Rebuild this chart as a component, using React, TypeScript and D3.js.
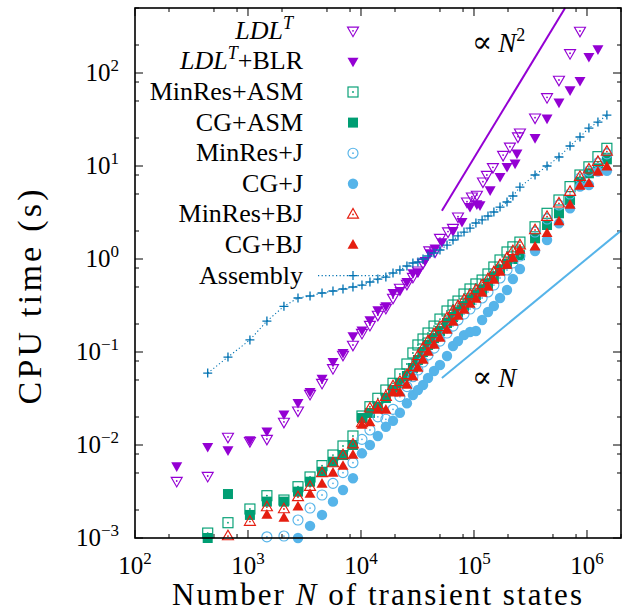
import React from "react";
import * as d3 from "d3";

// ---------- data ----------
const nGrid = [440, 665, 1040, 1470, 2080, 2770, 3540, 4520, 5650, 6930, 8490, 10200, 12000, 14100, 16600, 19200, 22100, 25500, 28800, 31900, 35400, 39200, 44300, 50000, 57700, 65200, 72200, 81600, 92200, 104000, 118000, 133000, 150000, 170000, 196000, 221000, 255000, 347000, 443000, 565000, 708000, 867000, 1040000, 1250000, 1500000];

const tAssembly = [0.0594, 0.0883, 0.135, 0.215, 0.31, 0.381, 0.4, 0.431, 0.453, 0.476, 0.5, 0.525, 0.566, 0.609, 0.64, 0.707, 0.762, 0.841, 0.906, 0.929, 1.0, 1.077, 1.16, 1.25, 1.41, 1.6, 1.77, 1.95, 2.15, 2.44, 2.63, 2.9, 3.2, 3.62, 4.1, 4.76, 5.94, 8.0, 10, 12.5, 16.4, 20.5, 25.6, 29.7, 35.3];

const tMinResASM = [0.00113, 0.00146, 0.00205, 0.00285, 0.00256, 0.00356, 0.00453, 0.006, 0.0078, 0.00976, 0.0125, 0.0205, 0.0258, 0.0318, 0.039, 0.0461, 0.058, 0.0743, 0.0976, 0.119, 0.138, 0.16, 0.19, 0.226, 0.276, 0.32, 0.353, 0.42, 0.476, 0.539, 0.594, 0.69, 0.82, 0.976, 1.19, 1.35, 1.52, 2.22, 3.1, 4.31, 6.0, 8.0, 9.8, 12.6, 15.5];

const tCGASM = [0.001, 0.00297, 0.00177, 0.00246, 0.00246, 0.00315, 0.00403, 0.00516, 0.00661, 0.0078, 0.01, 0.0195, 0.0221, 0.0258, 0.032, 0.039, 0.0464, 0.0552, 0.0673, 0.082, 0.1, 0.119, 0.141, 0.168, 0.205, 0.238, 0.269, 0.312, 0.362, 0.41, 0.464, 0.539, 0.64, 0.762, 0.884, 1.0, 1.1, 1.67, 2.32, 3.1, 4.31, 6.78, 8.35, 9.44, 11.8];

const tMinResJ = [null, null, null, 0.00103, 0.00105, 0.00156, 0.0021, 0.0029, 0.00387, 0.00504, 0.00645, 0.0115, 0.0145, 0.0201, 0.0189, 0.0242, 0.0331, 0.0424, 0.0542, 0.064, 0.078, 0.0929, 0.11, 0.131, 0.16, 0.19, 0.221, 0.256, 0.29, 0.328, 0.381, 0.442, 0.525, 0.625, 0.762, 0.906, 1.077, 1.95, 2.69, 3.81, 5.0, 7.43, 8.84, 10.8, 13.5];

const tCGJ = [null, null, null, null, null, 0.001, 0.00135, 0.00177, 0.00246, 0.00328, 0.00439, 0.00814, 0.01, 0.0125, 0.0157, 0.0182, 0.0222, 0.0281, 0.0345, 0.039, 0.0442, 0.0525, 0.0625, 0.0725, 0.0906, 0.116, 0.131, 0.152, 0.164, 0.168, 0.221, 0.269, 0.312, 0.381, 0.464, 0.61, 0.78, 1.22, 1.6, 2.42, 3.51, 6.0, 6.25, 8.69, 8.9];

const tMinResBJ = [null, 0.00105, 0.0015, 0.00215, 0.00205, 0.00276, 0.00356, 0.005, 0.0064, 0.0078, 0.0102, 0.0172, 0.0248, 0.0269, 0.0331, 0.0431, 0.048, 0.0566, 0.0695, 0.0906, 0.11, 0.131, 0.156, 0.186, 0.232, 0.276, 0.312, 0.362, 0.41, 0.464, 0.525, 0.61, 0.725, 0.862, 1.025, 1.22, 1.41, 2.05, 2.85, 3.97, 5.29, 7.67, 9.22, 11.1, 14.3];

const tCGBJ = [null, null, null, 0.00177, 0.00164, 0.00217, 0.00297, 0.00381, 0.005, 0.00594, 0.0078, 0.0164, 0.0174, 0.0238, 0.0238, 0.0365, 0.0365, 0.0442, 0.0542, 0.0673, 0.082, 0.1, 0.119, 0.141, 0.172, 0.21, 0.244, 0.283, 0.328, 0.372, 0.431, 0.5, 0.594, 0.725, 0.862, 1.025, 1.25, 1.35, 1.89, 2.52, 3.81, 6.1, 6.52, 8.62, 9.83];

const ldlN = [234, 440, 665, 1040, 1470, 2080, 2770, 3540, 4520, 5650, 6930, 8490, 10200, 12000, 14100, 16600, 19200, 22100, 25500, 28800, 31900, 35400, 40200, 45200, 50000, 58900, 65200, 72200, 86700, 95900, 106000, 120000, 130000, 147000, 181000, 208000, 245000, 255000, 347000, 443000, 565000, 708000, 867000];
const ldlT = [0.0041, 0.00464, 0.0122, 0.011, 0.0116, 0.0177, 0.0234, 0.0353, 0.0464, 0.0668, 0.0929, 0.119, 0.16, 0.195, 0.25, 0.297, 0.381, 0.488, 0.539, 0.64, 0.748, 0.906, 1.23, 1.2, 1.68, 1.97, 2.15, 2.85, 4.13, 4.68, 4.88, 6.78, 8.0, 9.68, 13.1, 16.1, 20.7, 22.8, 33.1, 54.8, 84.1, 163, 283];

const blrN = [234, 440, 665, 1040, 1470, 2080, 2770, 3540, 4520, 5650, 6930, 8490, 10200, 12000, 14100, 16600, 19200, 22100, 25500, 28800, 31900, 36800, 40800, 45200, 52100, 65200, 78300, 92200, 106000, 113000, 139000, 170000, 196000, 231000, 240000, 347000, 443000, 565000, 708000, 867000, 1040000, 1250000];
const blrT = [0.00594, 0.0096, 0.00884, 0.0113, 0.0141, 0.0215, 0.0285, 0.0374, 0.0521, 0.0787, 0.0983, 0.149, 0.172, 0.221, 0.283, 0.312, 0.434, 0.456, 0.57, 0.707, 0.725, 0.959, 1.16, 1.31, 1.53, 2.01, 2.52, 3.65, 3.9, 3.81, 5.52, 7.67, 9.83, 10.7, 13.7, 20.1, 32.6, 48.4, 65.6, 82.7, 150, 181];

const refQuadratic = [[5.2e4, 3.3], [6.4e5, 500]];
const refLinear = [[5.2e4, 0.0525], [2.0e6, 2.02]];

const xTickExps = [2, 3, 4, 5, 6];
const yTickExps = [-3, -2, -1, 0, 1, 2];
const minorMultipliers = [2, 5, 8];

const legendNames = ["LDL^T", "LDL^T+BLR", "MinRes+ASM", "CG+ASM", "MinRes+J", "CG+J", "MinRes+BJ", "CG+BJ", "Assembly"];

// ---------- style ----------
const FONT = "'Liberation Serif', 'DejaVu Serif', serif";
const PURPLE = "#9400D3";
const GREEN = "#009E73";
const LBLUE = "#56B4E9";
const RED = "#E51E10";
const BLUE = "#0072B2";

const L = 135, R = 621, T = 8, B = 538;
const x = d3.scaleLog().domain([1e2, 2e6]).range([L, R]);
const y = d3.scaleLog().domain([1e-3, 500]).range([B, T]);

type Kind = "tdo" | "tdf" | "sqo" | "sqf" | "cio" | "cif" | "tuo" | "tuf" | "plus";

function Marker({ kind, cx, cy, color }: { kind: Kind; cx: number; cy: number; color: string }) {
  const s = 5.5;
  const sw = 1.15;
  const dot = <circle cx={cx} cy={cy} r={0.9} fill={color} />;
  switch (kind) {
    case "tdo":
    case "tdf": {
      const d = `M${cx - s},${cy - 3.7}L${cx + s},${cy - 3.7}L${cx},${cy + 5.9}Z`;
      return kind === "tdf" ? <path d={d} fill={color} /> : <g><path d={d} fill="none" stroke={color} strokeWidth={sw} />{dot}</g>;
    }
    case "tuo":
    case "tuf": {
      const d = `M${cx - s},${cy + 3.7}L${cx + s},${cy + 3.7}L${cx},${cy - 5.9}Z`;
      return kind === "tuf" ? <path d={d} fill={color} /> : <g><path d={d} fill="none" stroke={color} strokeWidth={sw} />{dot}</g>;
    }
    case "sqo":
      return <g><rect x={cx - 5} y={cy - 5} width={10} height={10} fill="none" stroke={color} strokeWidth={sw} />{dot}</g>;
    case "sqf":
      return <rect x={cx - 5} y={cy - 5} width={10} height={10} fill={color} />;
    case "cio":
      return <g><circle cx={cx} cy={cy} r={5} fill="none" stroke={color} strokeWidth={sw} />{dot}</g>;
    case "cif":
      return <circle cx={cx} cy={cy} r={5.2} fill={color} />;
    case "plus":
      return <path d={`M${cx - 4.5},${cy}H${cx + 4.5}M${cx},${cy - 4.5}V${cy + 4.5}`} stroke={color} strokeWidth={1.3} />;
  }
  return null;
}

type Series = { name: string; kind: Kind; color: string; pts: [number, number][] };

const gridPairs = (ts: (number | null)[]) =>
  nGrid.map((n, i) => [n, ts[i]] as [number, number | null]).filter((p) => p[1] !== null) as [number, number][];

const series: Series[] = [
  { name: legendNames[0], kind: "tdo", color: PURPLE, pts: ldlN.map((n, i) => [n, ldlT[i]]) },
  { name: legendNames[1], kind: "tdf", color: PURPLE, pts: blrN.map((n, i) => [n, blrT[i]]) },
  { name: legendNames[2], kind: "sqo", color: GREEN, pts: gridPairs(tMinResASM) },
  { name: legendNames[3], kind: "sqf", color: GREEN, pts: gridPairs(tCGASM) },
  { name: legendNames[4], kind: "cio", color: LBLUE, pts: gridPairs(tMinResJ) },
  { name: legendNames[5], kind: "cif", color: LBLUE, pts: gridPairs(tCGJ) },
  { name: legendNames[6], kind: "tuo", color: RED, pts: gridPairs(tMinResBJ) },
  { name: legendNames[7], kind: "tuf", color: RED, pts: gridPairs(tCGBJ) },
  { name: legendNames[8], kind: "plus", color: BLUE, pts: gridPairs(tAssembly) },
];

function LegendLabel({ name, xr, yb }: { name: string; xr: number; yb: number }) {
  if (name === "LDL^T") {
    return (
      <text x={xr - 10} y={yb} textAnchor="end" fontFamily={FONT} fontSize={26}>
        <tspan fontStyle="italic">LDL</tspan>
        <tspan dy={-10} fontSize={18} fontStyle="italic">T</tspan>
      </text>
    );
  }
  if (name === "LDL^T+BLR") {
    return (
      <text x={xr} y={yb} textAnchor="end" fontFamily={FONT} fontSize={26}>
        <tspan fontStyle="italic">LDL</tspan>
        <tspan dy={-10} fontSize={18} fontStyle="italic">T</tspan>
        <tspan dy={10}>+BLR</tspan>
      </text>
    );
  }
  return (
    <text x={xr} y={yb} textAnchor="end" fontFamily={FONT} fontSize={26}>
      {name}
    </text>
  );
}

export default function App() {
  const majorX = xTickExps.map((e) => Math.pow(10, e));
  const majorY = yTickExps.map((e) => Math.pow(10, e));
  const minorX: number[] = [];
  for (let e = 2; e <= 6; e++) minorMultipliers.forEach((m) => { const v = m * Math.pow(10, e); if (v <= 2e6) minorX.push(v); });
  const minorY: number[] = [];
  for (let e = -3; e <= 2; e++) minorMultipliers.forEach((m) => { const v = m * Math.pow(10, e); if (v <= 500) minorY.push(v); });

  const line = d3.line<[number, number]>().x((d) => x(d[0])).y((d) => y(d[1]));
  const assembly = series[8];

  const rowY = (i: number) => 30.8 + 30.6 * i;
  const symX = 353;

  const fmtExp = (e: number) => (e < 0 ? "\u2212" + Math.abs(e) : String(e));

  return (
    <div style={{ position: "absolute", left: 0, top: 0 }}>
      <svg width={630} height={613} viewBox="0 0 630 613" style={{ display: "block", background: "#fff" }}>
        <rect x={0} y={0} width={630} height={613} fill="#fff" />
        {/* ticks */}
        <g stroke="#000" strokeWidth={1}>
          {majorX.map((v) => (
            <g key={"mx" + v}>
              <line x1={x(v)} x2={x(v)} y1={B} y2={B - 8} />
              <line x1={x(v)} x2={x(v)} y1={T} y2={T + 8} />
            </g>
          ))}
          {minorX.map((v) => (
            <g key={"nx" + v}>
              <line x1={x(v)} x2={x(v)} y1={B} y2={B - 4} />
              <line x1={x(v)} x2={x(v)} y1={T} y2={T + 4} />
            </g>
          ))}
          {majorY.map((v) => (
            <g key={"my" + v}>
              <line x1={L} x2={L + 8} y1={y(v)} y2={y(v)} />
              <line x1={R} x2={R - 8} y1={y(v)} y2={y(v)} />
            </g>
          ))}
          {minorY.map((v) => (
            <g key={"ny" + v}>
              <line x1={L} x2={L + 4} y1={y(v)} y2={y(v)} />
              <line x1={R} x2={R - 4} y1={y(v)} y2={y(v)} />
            </g>
          ))}
        </g>

        {/* reference lines */}
        <path d={line(refQuadratic as [number, number][]) || ""} stroke={PURPLE} strokeWidth={2} fill="none" />
        <path d={line(refLinear as [number, number][]) || ""} stroke={LBLUE} strokeWidth={2} fill="none" />

        {/* assembly dotted line */}
        <path d={line(assembly.pts) || ""} stroke={BLUE} strokeWidth={1.1} strokeDasharray="1.2,2.4" fill="none" />

        {/* data markers */}
        {series.map((s) => (
          <g key={s.name}>
            {s.pts.map((p, i) => (
              <Marker key={i} kind={s.kind} cx={x(p[0])} cy={y(p[1])} color={s.color} />
            ))}
          </g>
        ))}

        {/* legend */}
        {series.map((s, i) => (
          <g key={"lg" + i}>
            <LegendLabel name={s.name} xr={303} yb={rowY(i) + 8} />
            {s.kind === "plus" && (
              <line x1={318} x2={389} y1={rowY(i)} y2={rowY(i)} stroke={BLUE} strokeWidth={1.1} strokeDasharray="1.2,2.4" />
            )}
            <Marker kind={s.kind} cx={symX} cy={rowY(i)} color={s.color} />
          </g>
        ))}

        {/* annotations */}
        <text x={472} y={52} fontFamily={FONT} fontSize={27}>
          <tspan fontSize={30} fontFamily="'DejaVu Serif', serif">{"\u221D"}</tspan>
          <tspan dx={6} fontStyle="italic">N</tspan>
          <tspan dy={-11} fontSize={18}>2</tspan>
        </text>
        <text x={472} y={387} fontFamily={FONT} fontSize={27}>
          <tspan fontSize={30} fontFamily="'DejaVu Serif', serif">{"\u221D"}</tspan>
          <tspan dx={6} fontStyle="italic">N</tspan>
        </text>

        {/* frame */}
        <rect x={L} y={T} width={R - L} height={B - T} fill="none" stroke="#000" strokeWidth={1.6} />

        {/* tick labels */}
        {xTickExps.map((e) => (
          <text key={"xl" + e} x={x(Math.pow(10, e))} y={574} textAnchor="middle" fontFamily={FONT} fontSize={25}>
            10<tspan dy={-10} fontSize={17}>{fmtExp(e)}</tspan>
          </text>
        ))}
        {yTickExps.map((e) => (
          <text key={"yl" + e} x={119} y={y(Math.pow(10, e)) + 8} textAnchor="end" fontFamily={FONT} fontSize={25}>
            10<tspan dy={-10} fontSize={17}>{fmtExp(e)}</tspan>
          </text>
        ))}

        {/* axis titles */}
        <text x={377} y={605} textAnchor="middle" fontFamily={FONT} fontSize={31} textLength={410} lengthAdjust="spacing">
          Number <tspan fontStyle="italic">N</tspan> of transient states
        </text>
        <text transform="translate(41,297) rotate(-90)" textAnchor="middle" fontFamily={FONT} fontSize={34} textLength={215} lengthAdjust="spacing">
          CPU time (s)
        </text>
      </svg>
    </div>
  );
}
